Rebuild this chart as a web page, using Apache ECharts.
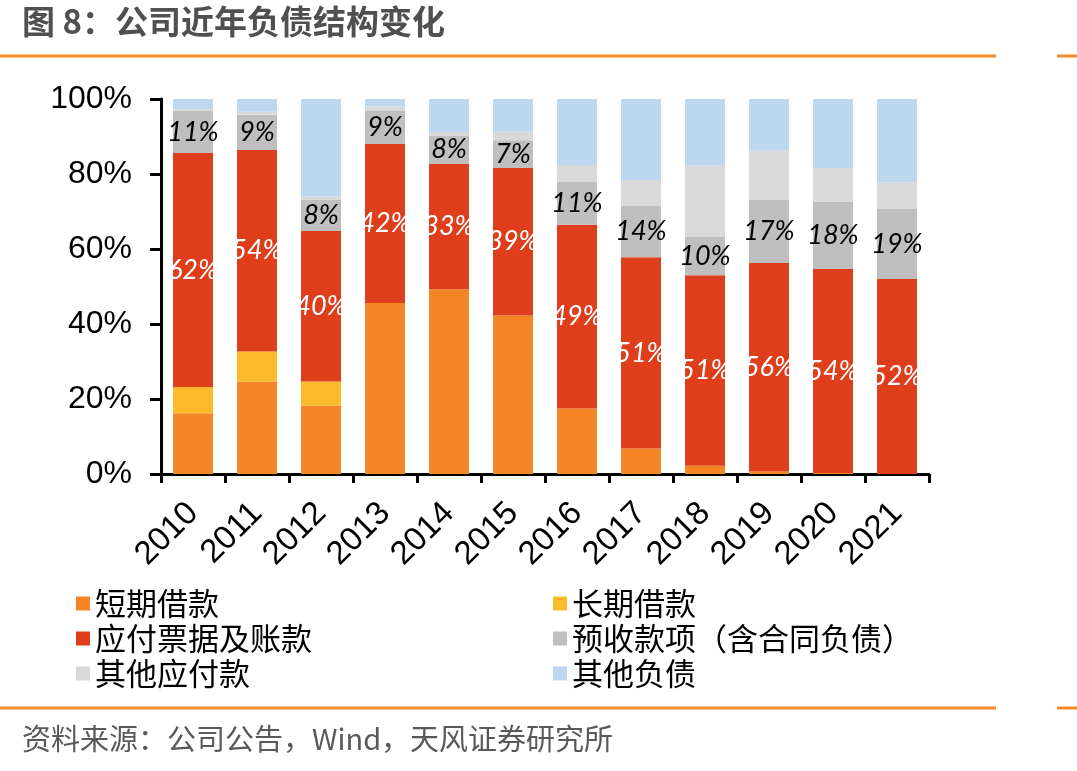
<!DOCTYPE html>
<html>
<head>
<meta charset="utf-8">
<title>公司近年负债结构变化</title>
<script src="https://cdn.jsdelivr.net/npm/echarts@6/dist/echarts.min.js"></script>
<style>
  html, body { margin: 0; padding: 0; background: #fff; }
  #chart { width: 1077px; height: 771px; }
</style>
</head>
<body>
<div id="chart"></div>
<script>
// 年份
const years = ["2010", "2011", "2012", "2013", "2014", "2015", "2016", "2017", "2018", "2019", "2020", "2021"];
// 各项负债占比（%）
const shortLoan = [16.2, 24.7, 18.3, 45.6, 49.3, 42.3, 17.5, 6.8, 2.2, 0.7, 0.3, 0];
const longLoan = [7.0, 8.0, 6.4, 0, 0, 0, 0, 0, 0, 0, 0, 0];
const notesPayable = [62.4, 53.7, 40.1, 42.4, 33.4, 39.3, 49.0, 51.0, 50.8, 55.6, 54.4, 52.0];
const advances = [11.2, 9.4, 8.4, 9.0, 7.6, 7.4, 11.4, 13.7, 10.2, 16.8, 17.9, 18.7];
const otherPayable = [0.6, 0.8, 0.8, 1.0, 0.9, 2.3, 4.5, 6.9, 19.0, 13.1, 9.0, 7.1];
const otherLiab = [2.6, 3.4, 26.0, 2.0, 8.8, 8.7, 17.6, 21.6, 17.8, 13.8, 18.4, 22.2];
const yTicks = [0, 20, 40, 60, 80, 100];

const names = ["短期借款", "长期借款", "应付票据及账款", "预收款项（含合同负债）", "其他应付款", "其他负债"];
const colors = ["#F38525", "#FBB92B", "#DE3E1B", "#BFBFBF", "#D9D9D9", "#BDD7EE"];

const chart = echarts.init(document.getElementById("chart"));

function pctLabel(color) {
  return {
    show: true,
    position: "inside",
    color: color,
    fontFamily: "Lato",
    fontStyle: "italic",
    fontSize: 27,
    formatter: p => Math.round(p.value) + "%"
  };
}

function mkSeries(i, data, label) {
  return {
    name: names[i],
    type: "bar",
    stack: "total",
    data: data,
    barWidth: 40,
    itemStyle: { color: colors[i] },
    label: label || { show: false },
    emphasis: { disabled: true }
  };
}

const legendText = {
  fontFamily: "Noto Sans CJK SC",
  fontSize: 31,
  color: "#000",
  lineHeight: 35
};

const option = {
  animation: false,
  backgroundColor: "#fff",
  grid: { left: 161, right: 148, top: 99, bottom: 297 },
  legend: [
    {
      orient: "vertical",
      left: 71,
      top: 581,
      itemWidth: 14,
      itemHeight: 14,
      itemGap: 0,
      icon: "rect",
      textStyle: legendText,
      data: [names[0], names[2], names[4]]
    },
    {
      orient: "vertical",
      left: 548,
      top: 581,
      itemWidth: 14,
      itemHeight: 14,
      itemGap: 0,
      icon: "rect",
      textStyle: legendText,
      data: [names[1], names[3], names[5]]
    }
  ],
  xAxis: {
    type: "category",
    data: years,
    axisLine: { lineStyle: { color: "#000", width: 3 } },
    axisTick: { show: true, length: 9, lineStyle: { color: "#000", width: 3 } },
    axisLabel: {
      rotate: 45,
      margin: 34,
      color: "#000",
      fontFamily: "Liberation Sans",
      fontSize: 33
    }
  },
  yAxis: {
    type: "value",
    min: yTicks[0],
    max: yTicks[yTicks.length - 1],
    interval: 20,
    splitLine: { show: false },
    axisLine: { show: true, lineStyle: { color: "#000", width: 3 } },
    axisTick: { show: true, length: 11, lineStyle: { color: "#000", width: 3 } },
    axisLabel: {
      margin: 29,
      color: "#000",
      fontFamily: "Liberation Sans",
      fontSize: 32,
      formatter: "{value}%"
    }
  },
  series: [
    mkSeries(0, shortLoan),
    mkSeries(1, longLoan),
    mkSeries(2, notesPayable, pctLabel("#fff")),
    mkSeries(3, advances, pctLabel("#000")),
    mkSeries(4, otherPayable),
    mkSeries(5, otherLiab)
  ],
  graphic: [
    {
      type: "text",
      left: 22,
      top: 5,
      style: {
        text: "图 8：公司近年负债结构变化",
        fontFamily: "Noto Sans CJK SC",
        fontWeight: "bold",
        fontSize: 33,
        fill: "#505050"
      }
    },
    { type: "line", shape: { x1: 0, y1: 56, x2: 996, y2: 56 }, style: { stroke: "#F28C28", lineWidth: 3 } },
    { type: "line", shape: { x1: 1057, y1: 56, x2: 1077, y2: 56 }, style: { stroke: "#F28C28", lineWidth: 3 } },
    { type: "line", shape: { x1: 0, y1: 708, x2: 996, y2: 708 }, style: { stroke: "#F28C28", lineWidth: 3 } },
    { type: "line", shape: { x1: 1057, y1: 708, x2: 1077, y2: 708 }, style: { stroke: "#F28C28", lineWidth: 3 } },
    {
      type: "text",
      left: 22,
      top: 724,
      style: {
        text: "资料来源：公司公告，Wind，天风证券研究所",
        fontFamily: "Noto Sans CJK SC",
        fontSize: 29,
        fill: "#595959"
      }
    }
  ]
};

chart.setOption(option);
</script>
</body>
</html>
